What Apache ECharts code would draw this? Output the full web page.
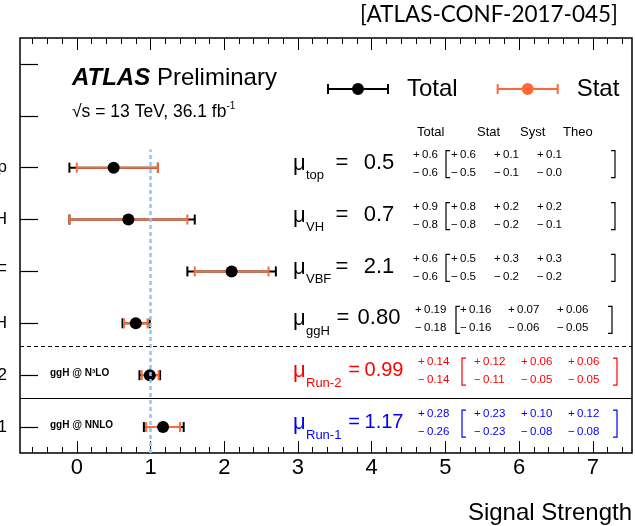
<!DOCTYPE html>
<html>
<head>
<meta charset="utf-8">
<script src="https://cdn.jsdelivr.net/npm/echarts@6/dist/echarts.min.js"></script>
<style>
html, body { margin: 0; padding: 0; background: #fff; }
#main { width: 635px; height: 526px; }
</style>
</head>
<body>
<div id="main"></div>
<script>
// rows, bottom to top
var rowNames = ['Run-1', 'Run-2', 'ggH', 'VBF', 'VH', 'top'];
var yCategories = ['Run-1', 'Run-2', 'ggH', 'VBF', 'VH', 'top', '', ''];
var prodNotes = ['ggH @ NNLO', 'ggH @ N\u00b3LO', '', '', '', ''];
var mu = [1.17, 0.99, 0.80, 2.1, 0.7, 0.5];
var decimals = [2, 2, 2, 1, 1, 1];
var totUp = [0.28, 0.14, 0.19, 0.6, 0.9, 0.6];
var totDn = [0.26, 0.14, 0.18, 0.6, 0.8, 0.6];
var statUp = [0.23, 0.12, 0.16, 0.5, 0.8, 0.6];
var statDn = [0.23, 0.11, 0.16, 0.5, 0.8, 0.5];
var systUp = [0.10, 0.06, 0.07, 0.3, 0.2, 0.1];
var systDn = [0.08, 0.05, 0.06, 0.2, 0.2, 0.1];
var theoUp = [0.12, 0.06, 0.06, 0.3, 0.2, 0.1];
var theoDn = [0.08, 0.05, 0.05, 0.2, 0.1, 0.0];
var xLabels = [0, 1, 2, 3, 4, 5, 6, 7];
var xMinor = [];
for (var t = -6; t <= 74; t += 2) { if (t % 10 !== 0) xMinor.push(t / 10); }

var FONT = "'Liberation Sans', Arial, sans-serif";
var ORANGE = '#ff6838';
var rowColor = ['#0000ff', '#ff0000', '#000', '#000', '#000', '#000'];
var SMALL = 11.5;

// text column layout per row type
var layouts = {
    one: { eq: 342, val: 379, vsize: 22, tot: 413, bl: 446, stat: 451, syst: 494, theo: 537, br: 615 },
    ggh: { eq: 343, val: 379, vsize: 22, tot: 415, bl: 456, stat: 460, syst: 508, theo: 557, br: 612 },
    run: { eq: 354, val: 384, vsize: 20, tot: 418, bl: 462, stat: 474, syst: 521, theo: 568, br: 617 }
};
function layoutFor(i) {
    if (i < 2) return layouts.run;
    if (i === 2) return layouts.ggh;
    return layouts.one;
}

function fmt(v, d) { return v.toFixed(d); }

function errorBar(color) {
    return function (params, api) {
        var y = api.value(1);
        var lo = api.coord([api.value(2), y]);
        var hi = api.coord([api.value(3), y]);
        var st = { stroke: color, lineWidth: 2 };
        return {
            type: 'group', children: [
                { type: 'line', shape: { x1: lo[0], y1: lo[1], x2: hi[0], y2: hi[1] }, style: st },
                { type: 'line', shape: { x1: lo[0], y1: lo[1] - 5, x2: lo[0], y2: lo[1] + 5 }, style: st },
                { type: 'line', shape: { x1: hi[0], y1: hi[1] - 5, x2: hi[0], y2: hi[1] + 5 }, style: st }
            ]
        };
    };
}

function txt(x, y, s, size, color, align, weight) {
    return {
        type: 'text', x: x, y: y,
        style: {
            text: s, fontSize: size, fontFamily: FONT, fill: color,
            fontWeight: weight || 'normal', align: align || 'left', verticalAlign: 'middle'
        }
    };
}

function renderText(params, api) {
    var i = params.dataIndex;
    var yc = api.coord([0, api.value(1)])[1];
    var L = layoutFor(i);
    var c = rowColor[i];
    var d = decimals[i];
    var kids = [];
    kids.push(txt(293, yc - 4, '\u03bc', 22, c));
    kids.push(txt(306, yc + 8, rowNames[i], 13, c));
    kids.push(txt(L.eq, yc - 5, '=', L.vsize, c, 'center'));
    kids.push(txt(L.val, yc - 5, fmt(mu[i], d), L.vsize, c, 'center'));
    var cols = [[L.tot, totUp, totDn], [L.stat, statUp, statDn], [L.syst, systUp, systDn], [L.theo, theoUp, theoDn]];
    cols.forEach(function (col) {
        kids.push(txt(col[0], yc - 13, '+\u2009' + fmt(col[1][i], d), SMALL, c));
        kids.push(txt(col[0], yc + 5, '\u2212\u2009' + fmt(col[2][i], d), SMALL, c));
    });
    var top = yc - 17, bot = yc + 10;
    kids.push({ type: 'polyline', shape: { points: [[L.bl + 4, top], [L.bl, top], [L.bl, bot], [L.bl + 4, bot]] },
        style: { stroke: c, lineWidth: 1.2, fill: null } });
    kids.push({ type: 'polyline', shape: { points: [[L.br - 4, top], [L.br, top], [L.br, bot], [L.br - 4, bot]] },
        style: { stroke: c, lineWidth: 1.2, fill: null } });
    if (prodNotes[i]) kids.push(txt(50, yc - 2, prodNotes[i], 10, '#000', 'left', 'bold'));
    if (i === rowNames.length - 1) {
        kids.push(txt(417, yc - 35, 'Total', 13, '#000'));
        kids.push(txt(477, yc - 35, 'Stat', 13, '#000'));
        kids.push(txt(520, yc - 35, 'Syst', 13, '#000'));
        kids.push(txt(563, yc - 35, 'Theo', 13, '#000'));
    }
    return { type: 'group', children: kids };
}

var totalData = rowNames.map(function (n, i) { return [mu[i], i + 1, mu[i] - totDn[i], mu[i] + totUp[i]]; });
var statData = rowNames.map(function (n, i) { return [mu[i], i + 1, mu[i] - statDn[i], mu[i] + statUp[i]]; });
var pointData = rowNames.map(function (n, i) { return [mu[i], i + 1]; });

var barIcon = 'path://M0,6H62V8H0Z M0,2H2V12H0Z M60,2H62V12H60Z M25,7A6,6 0 1 1 37,7A6,6 0 1 1 25,7Z';

var X_MIN = -0.77, X_MAX = 7.53;
function xAxisDef(pos, ticks, len, labels) {
    return {
        type: 'value', min: X_MIN, max: X_MAX, position: pos,
        axisLine: { show: false, onZero: false }, splitLine: { show: false },
        axisTick: { show: true, inside: true, length: len, customValues: ticks, lineStyle: { color: '#000', width: 1 } },
        axisLabel: labels ? { show: true, customValues: labels, fontSize: 22, fontFamily: FONT, color: '#000', margin: 4 } : { show: false }
    };
}

var chart = echarts.init(document.getElementById('main'));
var xBottom = xAxisDef('bottom', xLabels, 12, xLabels);
xBottom.name = 'Signal Strength';
xBottom.nameLocation = 'end';
xBottom.nameGap = 0;
xBottom.nameTextStyle = { fontSize: 24, fontFamily: FONT, color: '#000', align: 'right', verticalAlign: 'top', padding: [48, 0, 0, 0] };

var option = {
    animation: false,
    backgroundColor: '#fff',
    title: [
        { text: '[ATLAS-CONF-2017-045]', right: 17, top: 3, padding: 0,
          textStyle: { fontFamily: 'Lato, sans-serif', fontSize: 22.5, fontWeight: 'normal', color: '#000' } },
        { text: '{a|ATLAS}{b| Preliminary}', left: 72, top: 66, padding: 0,
          textStyle: { rich: {
              a: { fontFamily: FONT, fontSize: 24, fontWeight: 'bold', fontStyle: 'italic', color: '#000', lineHeight: 24 },
              b: { fontFamily: FONT, fontSize: 24, fontWeight: 'normal', color: '#000', lineHeight: 24 } } } },
        { text: '{a|\u221as = 13 TeV, 36.1 fb}{s|-1}', left: 72, top: 101, padding: 0,
          textStyle: { rich: {
              a: { fontFamily: FONT, fontSize: 17.5, fontWeight: 'normal', color: '#000', lineHeight: 20, verticalAlign: 'bottom' },
              s: { fontFamily: FONT, fontSize: 10, fontWeight: 'normal', color: '#000', lineHeight: 10, verticalAlign: 'top' } } } }
    ],
    legend: {
        left: 327, top: 77, padding: 0, itemWidth: 62, itemHeight: 12, itemGap: 39, selectedMode: false,
        textStyle: { fontSize: 24, fontFamily: FONT, color: '#000', padding: [0, 0, 0, 13] },
        data: [{ name: 'Total', icon: barIcon }, { name: 'Stat', icon: barIcon }]
    },
    grid: { left: 20, right: 3, top: 38, bottom: 73, show: true, borderColor: '#000', borderWidth: 1.5,
            containLabel: false, outerBoundsMode: 'none' },
    xAxis: [
        xBottom,
        xAxisDef('bottom', xMinor, 6, null),
        xAxisDef('top', xLabels, 12, null),
        xAxisDef('top', xMinor, 6, null)
    ],
    yAxis: [
        { type: 'category', data: yCategories, position: 'left', boundaryGap: true,
          axisLine: { show: false, onZero: false },
          axisTick: { show: true, inside: true, length: 18, alignWithLabel: true, interval: 0, lineStyle: { color: '#000', width: 1.2 } },
          axisLabel: { interval: 0, fontSize: 17, fontFamily: FONT, color: '#000', margin: 13, padding: [10, 0, 0, 0] } },
        { type: 'value', min: 0.5, max: 8.5, show: false, axisLine: { onZero: false } }
    ],
    series: [
        { name: 'Total', type: 'custom', xAxisIndex: 0, yAxisIndex: 1, z: 2,
          itemStyle: { color: '#000' }, renderItem: errorBar('#000'),
          encode: { x: [0, 2, 3], y: 1 }, data: totalData,
          markLine: { silent: true, symbol: 'none', label: { show: false },
              data: [
                  [{ coord: [1, 0.5], lineStyle: { color: '#8cc6f5', width: 2.5, type: [4, 3] } }, { coord: [1, 6.35] }],
                  { yAxis: 2.55, lineStyle: { color: '#000', width: 1, type: [4, 3] } },
                  { yAxis: 1.55, lineStyle: { color: '#000', width: 1, type: 'solid' } }
              ] } },
        { name: 'Stat', type: 'custom', xAxisIndex: 0, yAxisIndex: 1, z: 3,
          itemStyle: { color: ORANGE }, renderItem: errorBar(ORANGE),
          encode: { x: [0, 2, 3], y: 1 }, data: statData },
        { name: 'mu', type: 'scatter', xAxisIndex: 0, yAxisIndex: 1, z: 4,
          symbol: 'circle', symbolSize: 12, itemStyle: { color: '#000', opacity: 1 }, data: pointData },
        { name: 'text', type: 'custom', xAxisIndex: 0, yAxisIndex: 1, z: 5, silent: true,
          renderItem: renderText, encode: { x: 0, y: 1 }, data: pointData }
    ]
};
chart.setOption(option);
</script>
</body>
</html>
